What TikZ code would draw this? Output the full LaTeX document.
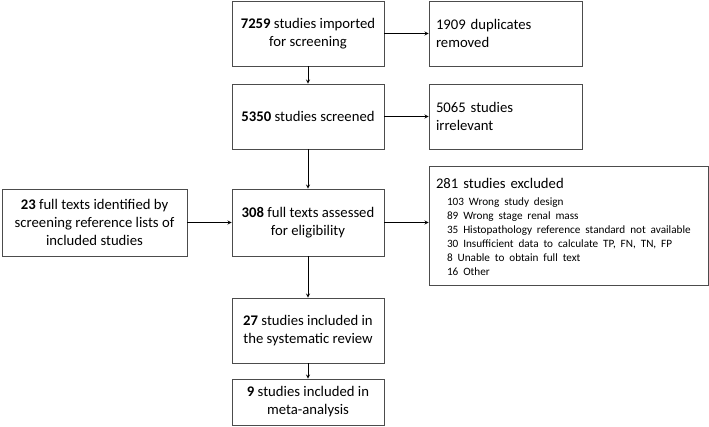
\documentclass[tikz,border=0pt]{standalone}
\usepackage{fontspec}
\setmainfont{Carlito}
\newcommand{\itemfont}{\fontsize{11.2}{14}\selectfont}
\begin{document}
\begin{tikzpicture}[>=stealth,x=1pt,y=-1pt,
	box/.style={draw=black!70,line width=0.9pt,inner xsep=7pt,inner ysep=0pt,font=\fontsize{14.7}{18}\selectfont},
	midbox/.style={box,align=center,minimum width=152pt},
	sidebox/.style={box,align=left,minimum width=153pt,text width=139pt},
	link/.style={->,line width=0.8pt}]
		\useasboundingbox (0,0) rectangle (709,426);
		% main column
		\node[midbox,minimum height=65pt] (imported) at (308,33.5) {\textbf{7259} studies imported\\for screening};
		\node[midbox,minimum height=65pt] (screened) at (308,116.5) {\textbf{5350} studies screened};
		\node[midbox,minimum height=67pt] (assessed) at (308,222.5) {\textbf{308} full texts assessed\\for eligibility};
		\node[midbox,minimum height=65pt] (review) at (308,330.5) {\textbf{27} studies included in\\the systematic review};
		\node[midbox,minimum height=46pt] (meta) at (308,402) {\textbf{9} studies included in\\meta-analysis};
		% side boxes
		\node[box,align=center,minimum width=185pt,minimum height=67pt] (reflists) at (94.5,222.5) {\textbf{23} full texts identified by\\screening reference lists of\\included studies};
		\node[sidebox,minimum height=65pt] (duplicates) at (505.5,33.5) {1909 duplicates\\removed};
		\node[sidebox,minimum height=65pt] (irrelevant) at (505.5,116.5) {5065 studies\\irrelevant};
		\node[box,align=left,minimum width=279pt,text width=265pt,minimum height=119pt] (excluded) at (568.5,225.5)
			{\rule{0pt}{17pt}281 studies excluded\\[-1pt]
			{\itemfont\begin{tabular}[t]{@{\hspace{11pt}}l@{}}
			103 Wrong study design\\
			89 Wrong stage renal mass\\
			35 Histopathology reference standard not available\\
			30 Insufficient data to calculate TP, FN, TN, FP\\
			8 Unable to obtain full text\\
			16 Other
			\end{tabular}}};
		% arrows
		\draw[link] (imported) -- (screened);
		\draw[link] (screened) -- (assessed);
		\draw[link] (assessed) -- (review);
		\draw[link] (review) -- (meta);
		\draw[link] (imported) -- (duplicates);
		\draw[link] (screened) -- (irrelevant);
		\draw[link] (reflists) -- (assessed);
		\draw[link] (assessed.east) -- (assessed.east -| excluded.west);
\end{tikzpicture}
\end{document}
